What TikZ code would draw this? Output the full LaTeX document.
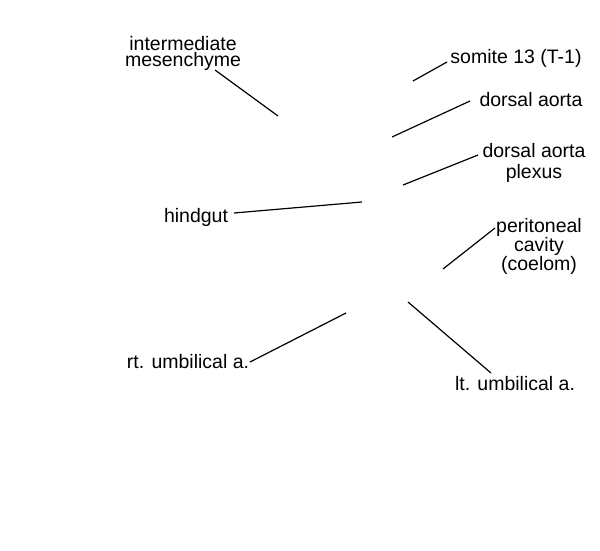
\documentclass[tikz,border=0pt]{standalone}
\usepackage{fontspec}
\setmainfont{Liberation Sans}
\begin{document}
\begin{tikzpicture}[x=1pt,y=-1pt,
  lbl/.style={inner sep=0pt,anchor=base,align=center,font=\fontsize{19.5}{19}\selectfont},
  leader/.style={line width=1.2pt,black}]
\useasboundingbox (0,0) rectangle (600,550);
% labels (base anchor = baseline of the last line)
\node[lbl,font=\fontsize{19.5}{15.5}\selectfont] (im) at (183,66) {intermediate\\mesenchyme};
\node[lbl] (som) at (516,63) {somite 13 (T-1)};
\node[lbl] (da) at (531,106) {dorsal aorta};
\node[lbl,font=\fontsize{19.5}{21}\selectfont] (dap) at (534,178) {dorsal aorta\\plexus};
\node[lbl] (hg) at (196,222) {hindgut};
\node[lbl] (pc) at (539,270) {peritoneal\\cavity\\(coelom)};
\node[lbl] (rt) at (188,368) {rt. umbilical a.};
\node[lbl] (lt) at (515,390) {lt. umbilical a.};
% leader ends
\coordinate (imA) at (215,70);  \coordinate (imB) at (278,116);
\coordinate (somA) at (447,62); \coordinate (somB) at (413,81);
\coordinate (daA) at (470,101); \coordinate (daB) at (392,137);
\coordinate (dapA) at (478,155); \coordinate (dapB) at (403,185);
\coordinate (hgA) at (234,213); \coordinate (hgB) at (362,202);
\coordinate (pcA) at (495,228); \coordinate (pcB) at (443,269);
\coordinate (rtA) at (250,362); \coordinate (rtB) at (346,313);
\coordinate (ltA) at (491,373); \coordinate (ltB) at (408,302);
\draw[leader] (imA) -- (imB);
\draw[leader] (somA) -- (somB);
\draw[leader] (daA) -- (daB);
\draw[leader] (dapA) -- (dapB);
\draw[leader] (hgA) -- (hgB);
\draw[leader] (pcA) -- (pcB);
\draw[leader] (rtA) -- (rtB);
\draw[leader] (ltA) -- (ltB);
\end{tikzpicture}
\end{document}
